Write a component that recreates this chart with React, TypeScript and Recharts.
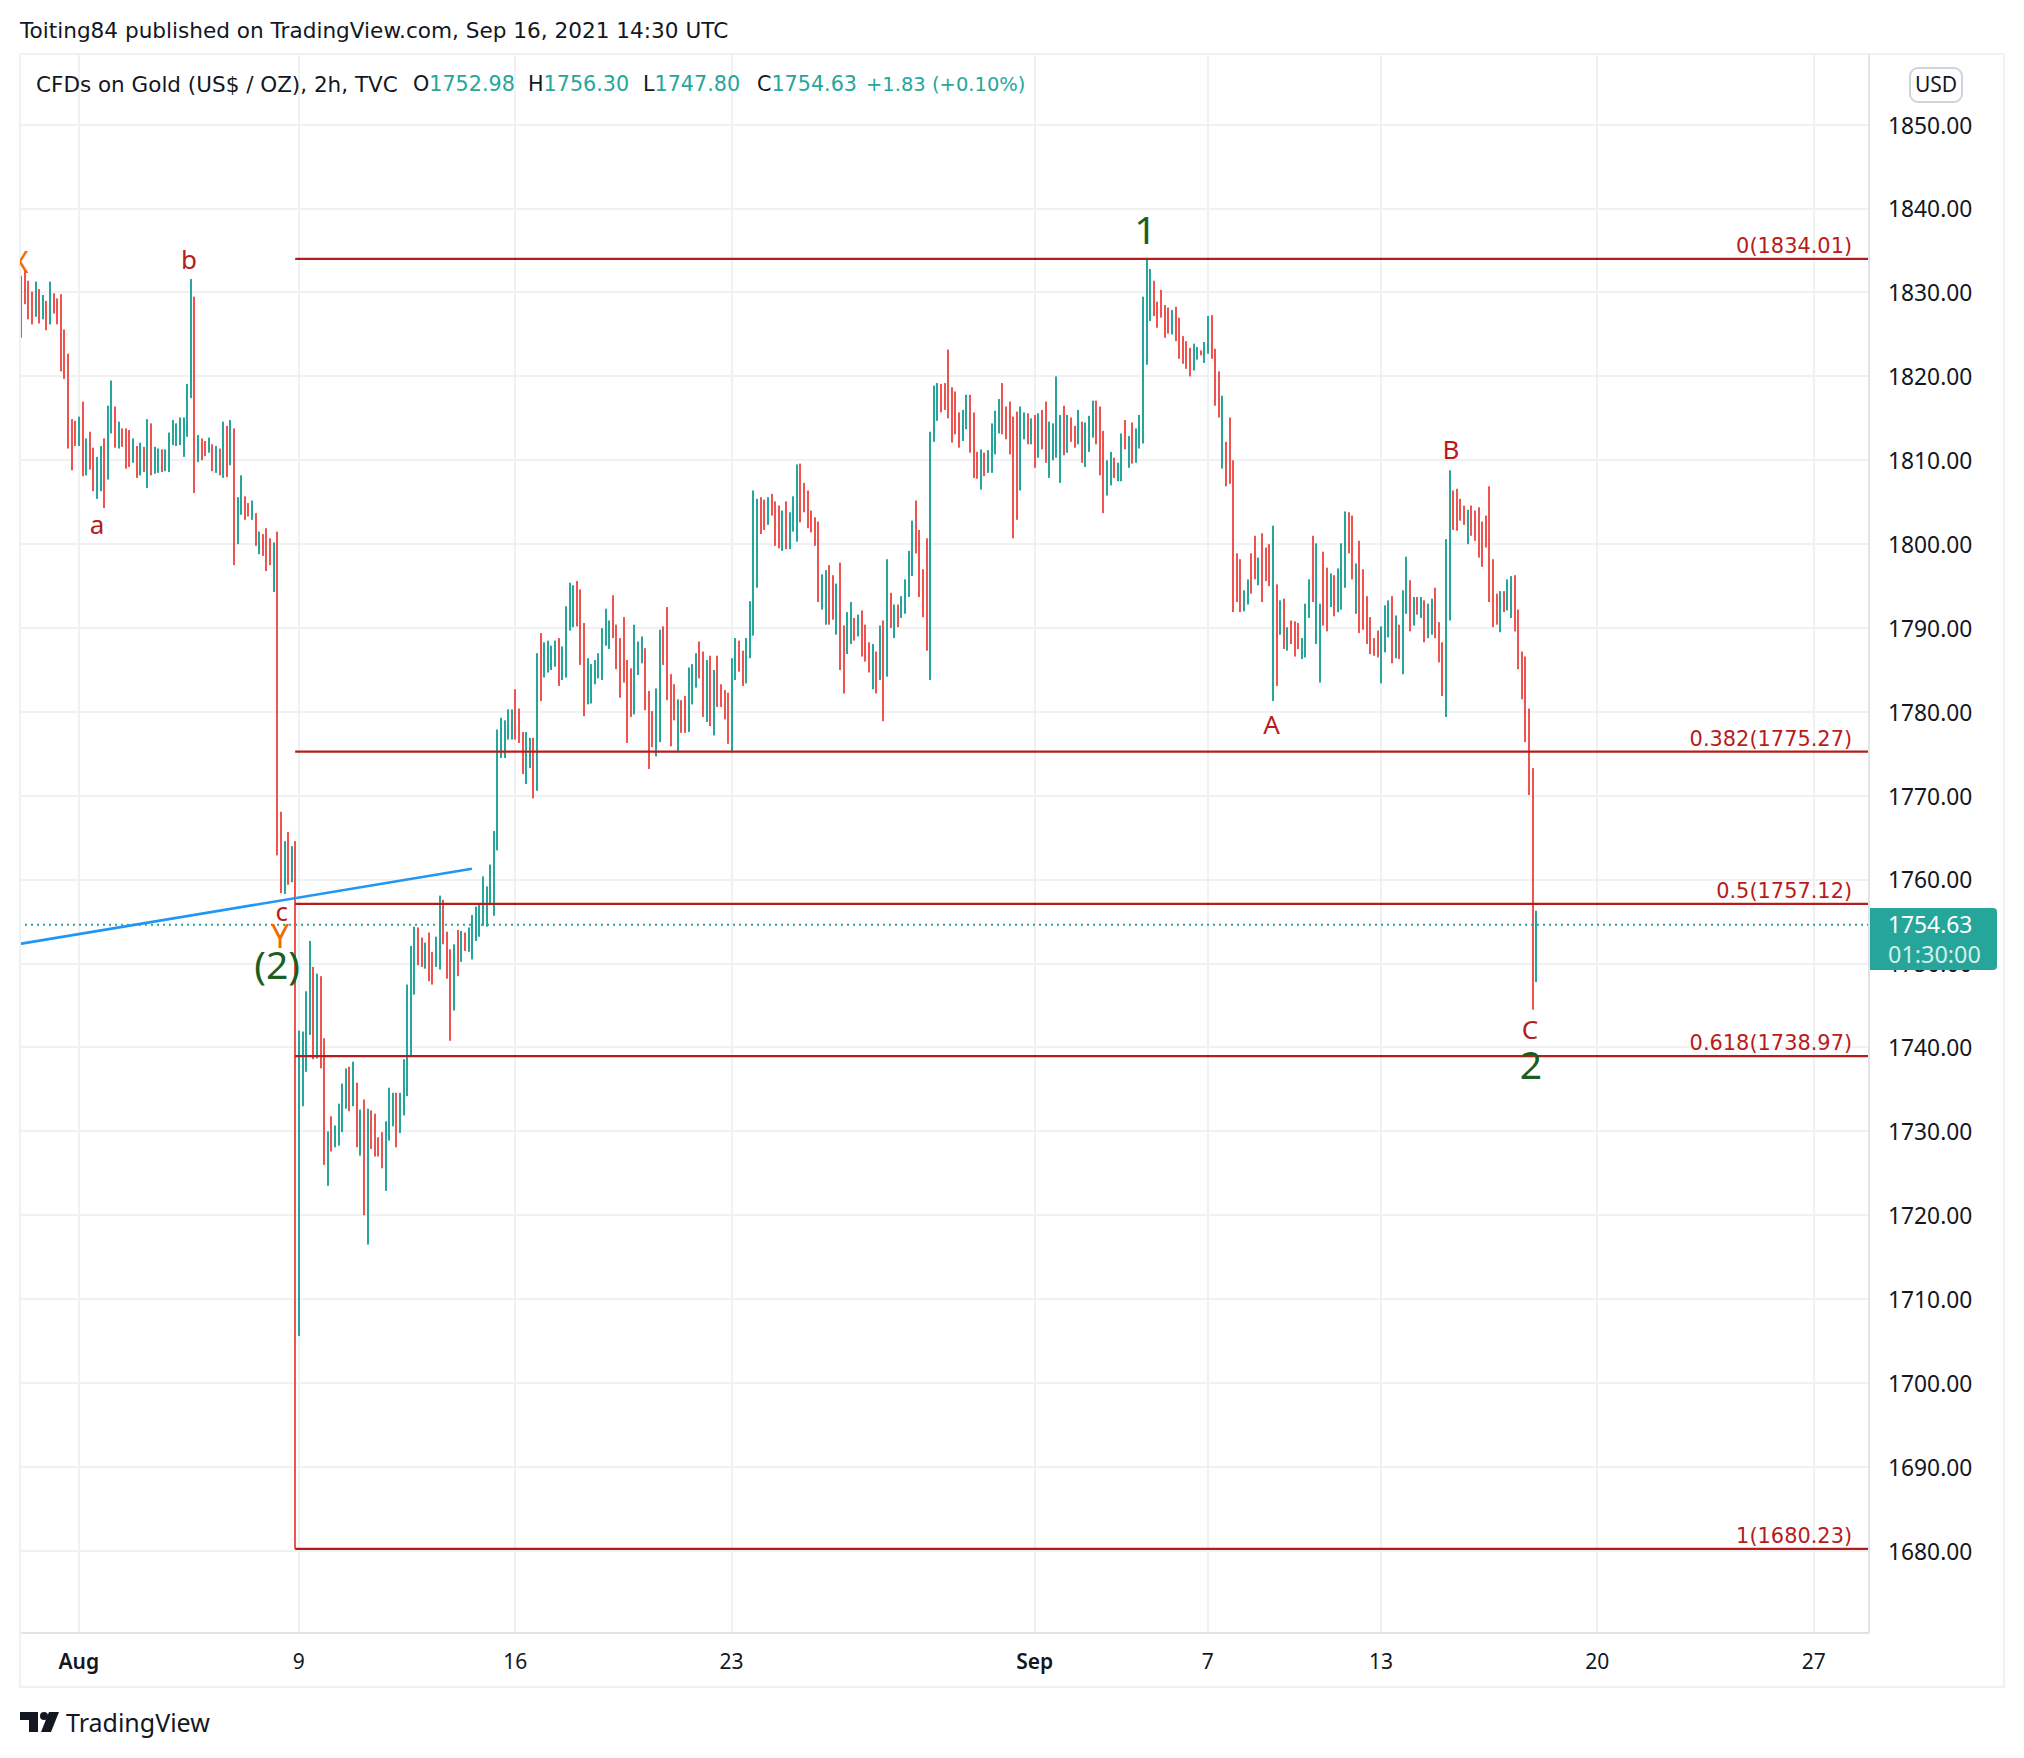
import React from "react";
import { ComposedChart, Bar, XAxis, YAxis, CartesianGrid, ReferenceLine, ReferenceDot } from "recharts";

const highs = [
1832.0,1832.6,1831.4,1830.1,1831.3,1830.4,1829.7,1829.0,1831.3,1829.9,1829.3,1829.8,1825.6,1822.7,1814.9,1814.7,1815.2,1817.0,1812.6,1813.4,
1811.5,1810.4,1811.7,1812.6,1816.5,1819.5,1816.4,1814.6,1813.8,1813.8,1813.6,1812.6,1811.7,1812.1,1811.6,1814.9,1814.4,1811.6,1811.4,1811.3,
1811.3,1813.3,1814.8,1814.4,1815.1,1815.1,1819.1,1831.6,1829.5,1813.0,1812.6,1812.3,1812.7,1811.9,1811.7,1811.4,1814.6,1814.1,1814.8,1813.8,
1805.6,1808.2,1805.7,1804.9,1805.2,1803.7,1801.5,1801.2,1801.9,1800.7,1800.2,1801.5,1768.1,1764.6,1765.7,1764.0,1764.6,1742.0,1741.9,1746.7,
1752.7,1749.6,1748.8,1748.5,1741.1,1730.0,1731.8,1730.7,1733.3,1735.7,1737.5,1737.7,1738.3,1735.8,1732.6,1733.8,1732.7,1732.5,1732.1,1729.3,
1729.9,1731.2,1735.2,1734.6,1734.6,1734.6,1738.6,1747.5,1752.1,1754.4,1754.3,1753.1,1752.5,1753.7,1751.4,1753.2,1758.1,1757.6,1753.8,1751.7,
1752.3,1754.0,1753.9,1753.7,1754.3,1755.8,1756.8,1757.0,1760.4,1759.2,1761.8,1765.8,1777.9,1779.3,1779.0,1780.3,1780.3,1782.7,1780.4,1777.6,
1777.6,1776.9,1776.9,1787.0,1789.4,1788.3,1788.5,1787.9,1788.5,1788.8,1787.8,1792.6,1795.4,1795.1,1795.6,1794.6,1790.6,1786.4,1785.7,1786.2,
1787.0,1790.0,1792.3,1790.9,1793.9,1790.4,1788.8,1791.3,1786.2,1785.2,1790.4,1788.4,1789.0,1787.6,1782.5,1780.1,1782.8,1789.8,1790.2,1792.5,
1784.5,1783.3,1781.5,1781.4,1781.9,1785.3,1785.7,1787.0,1788.4,1787.2,1786.2,1786.7,1785.0,1786.7,1783.3,1782.6,1782.3,1786.4,1788.8,1788.5,
1787.3,1788.8,1793.2,1806.4,1805.4,1805.6,1805.3,1805.6,1806.0,1805.1,1804.6,1804.0,1805.1,1803.8,1805.7,1809.5,1809.6,1807.3,1806.4,1804.0,
1803.2,1802.7,1796.4,1796.9,1797.5,1796.3,1795.3,1797.8,1790.3,1791.9,1793.1,1791.2,1791.6,1792.1,1790.4,1788.3,1788.1,1787.2,1790.3,1790.9,
1798.2,1794.2,1792.8,1792.8,1793.8,1795.8,1799.2,1802.8,1805.2,1801.7,1797.0,1800.7,1813.4,1818.9,1819.2,1819.1,1819.2,1823.2,1818.7,1818.2,
1815.7,1816.0,1817.8,1817.8,1815.7,1811.0,1811.3,1810.9,1811.2,1814.4,1815.9,1817.3,1819.2,1816.4,1817.0,1815.2,1815.8,1816.4,1815.7,1815.6,
1815.0,1815.4,1815.6,1816.0,1817.0,1814.6,1814.4,1820.0,1815.4,1816.5,1815.4,1815.1,1814.1,1816.0,1814.6,1814.5,1815.3,1817.1,1817.1,1816.4,
1813.5,1810.0,1811.0,1810.3,1809.7,1813.2,1814.8,1812.9,1814.5,1813.8,1815.4,1829.5,1834.0,1832.8,1831.4,1828.9,1830.3,1828.5,1828.2,1827.9,
1828.3,1827.0,1824.8,1824.2,1823.4,1823.9,1823.5,1823.1,1824.1,1827.2,1827.3,1823.3,1820.6,1817.7,1812.2,1815.1,1810.0,1798.9,1798.2,1794.5,
1795.8,1798.9,1801.0,1798.4,1801.3,1799.6,1800.0,1802.2,1795.2,1793.3,1793.5,1790.1,1790.9,1790.8,1790.6,1788.8,1792.9,1795.8,1801.0,1800.1,
1792.9,1799.1,1797.2,1796.5,1796.3,1797.1,1800.1,1803.9,1803.8,1803.4,1797.7,1800.4,1797.0,1793.8,1791.3,1788.8,1789.7,1790.2,1792.7,1793.3,
1793.8,1791.5,1790.4,1794.5,1798.5,1795.7,1793.7,1793.7,1793.7,1793.3,1792.9,1793.5,1794.8,1790.7,1788.3,1800.6,1808.8,1806.4,1806.6,1805.4,
1804.6,1804.1,1804.6,1804.0,1804.4,1802.7,1803.4,1806.9,1798.2,1794.1,1794.4,1794.4,1795.8,1796.2,1796.3,1792.2,1787.2,1786.6,1780.4,1773.3,
1756.3];

const lows = [
1824.6,1828.6,1826.8,1826.2,1827.1,1826.3,1826.8,1825.5,1826.2,1827.5,1826.2,1820.6,1819.7,1811.4,1808.8,1811.7,1811.7,1808.1,1808.2,1808.9,
1806.3,1805.4,1806.3,1804.3,1807.7,1813.2,1811.5,1811.4,1811.6,1809.0,1809.2,1809.7,1807.9,1808.2,1808.6,1806.7,1808.2,1808.4,1808.5,1808.6,
1808.7,1808.6,1811.8,1811.7,1811.8,1810.4,1812.8,1817.4,1806.1,1809.8,1810.0,1810.5,1810.9,1808.7,1808.5,1808.2,1807.9,1808.0,1809.4,1797.5,
1800.0,1803.5,1802.9,1803.3,1802.9,1799.8,1798.8,1798.6,1796.8,1797.5,1794.3,1762.9,1758.4,1758.3,1759.4,1759.7,1680.23,1705.6,1733.0,1737.1,
1741.5,1738.6,1738.7,1737.5,1726.0,1723.5,1727.6,1728.1,1728.3,1729.9,1732.7,1732.4,1733.0,1728.1,1727.1,1720.0,1716.5,1727.9,1727.0,1727.0,
1725.6,1722.9,1728.9,1730.6,1728.1,1729.8,1731.9,1734.2,1738.9,1746.3,1749.8,1749.6,1749.4,1747.9,1747.5,1749.6,1749.3,1752.3,1748.2,1740.8,
1744.4,1748.5,1750.2,1751.5,1751.4,1750.5,1752.7,1753.2,1754.5,1754.4,1757.0,1755.7,1763.5,1774.5,1774.5,1776.7,1776.7,1776.7,1776.3,1772.6,
1771.4,1773.3,1769.7,1770.6,1781.3,1784.1,1784.7,1785.0,1785.4,1783.1,1783.8,1784.1,1789.7,1790.1,1790.2,1785.6,1779.5,1780.9,1781.0,1783.3,
1784.0,1783.8,1787.9,1787.5,1788.8,1785.1,1781.7,1783.5,1776.3,1779.4,1779.7,1784.4,1785.8,1780.2,1773.2,1775.8,1774.7,1776.4,1785.6,1781.4,
1775.9,1779.0,1775.2,1777.5,1777.5,1777.6,1780.9,1782.9,1784.0,1779.4,1778.8,1778.3,1777.2,1780.6,1780.6,1779.1,1776.2,1775.2,1783.8,1784.8,
1783.1,1783.4,1786.4,1789.1,1794.8,1801.2,1801.7,1802.3,1803.4,1799.8,1799.5,1799.2,1799.4,1799.4,1801.5,1800.3,1802.6,1803.8,1801.9,1801.4,
1799.8,1793.1,1792.2,1790.4,1790.4,1791.0,1789.2,1785.0,1782.2,1786.9,1788.1,1788.5,1789.0,1786.6,1786.0,1784.7,1782.7,1782.2,1783.8,1778.9,
1784.2,1790.0,1788.8,1790.1,1791.2,1791.7,1793.7,1796.2,1798.9,1793.7,1791.3,1787.3,1783.8,1812.2,1814.7,1815.7,1816.0,1815.0,1812.1,1813.1,
1811.5,1812.3,1813.7,1810.9,1807.9,1807.8,1806.5,1808.1,1808.5,1808.5,1810.7,1813.2,1813.1,1812.5,1810.7,1800.7,1802.9,1806.4,1812.5,1811.9,
1811.9,1809.1,1810.3,1811.3,1809.7,1807.9,1810.0,1810.3,1807.3,1810.6,1810.9,1812.2,1811.5,1811.9,1809.7,1809.2,1811.0,1812.7,1811.9,1808.2,
1803.7,1805.8,1807.0,1807.9,1807.5,1807.5,1811.3,1809.1,1809.6,1809.7,1811.4,1812.0,1821.4,1826.6,1827.2,1825.8,1827.0,1824.6,1825.1,1825.0,
1824.2,1822.1,1821.5,1820.9,1820.0,1820.7,1822.0,1822.5,1821.6,1822.7,1822.1,1816.5,1815.1,1809.0,1806.9,1807.2,1791.9,1793.1,1791.9,1792.0,
1792.8,1794.1,1795.8,1795.1,1793.1,1795.6,1795.0,1781.3,1783.1,1789.2,1787.5,1787.3,1788.1,1786.6,1787.5,1786.3,1786.5,1791.2,1793.1,1788.1,
1783.5,1790.3,1789.6,1792.5,1791.4,1791.9,1792.2,1794.8,1798.9,1795.8,1791.7,1789.4,1789.8,1788.1,1786.9,1786.7,1786.5,1783.4,1787.1,1788.9,
1785.8,1786.4,1786.3,1784.5,1791.7,1789.6,1790.3,1791.6,1791.2,1788.3,1788.8,1789.2,1788.8,1785.9,1781.9,1779.4,1790.9,1801.7,1801.6,1802.8,
1802.3,1800.0,1801.0,1800.4,1798.4,1797.3,1799.6,1793.1,1790.1,1790.4,1789.5,1791.9,1792.1,1791.2,1789.6,1785.1,1781.5,1776.4,1770.1,1744.5,
1747.8];

const rising = [
1,0,0,0,1,0,1,0,1,0,0,0,0,0,0,0,1,0,1,0,
0,1,1,0,1,1,0,1,0,0,0,1,0,1,0,1,0,1,1,0,
1,1,1,1,1,1,1,1,0,1,0,0,1,0,1,0,1,0,1,0,
1,1,0,0,1,0,1,0,0,0,1,0,0,1,0,1,0,1,1,1,
1,0,1,0,0,1,0,1,1,1,1,0,1,0,1,0,1,0,0,0,
0,1,1,1,0,1,1,1,1,1,0,0,1,0,0,1,1,0,0,0,
1,0,1,0,1,1,1,1,1,1,1,1,1,1,1,1,1,0,0,0,
1,1,0,1,0,1,1,1,1,0,1,1,1,1,0,0,0,1,1,1,
1,1,1,1,0,0,0,0,0,0,1,1,1,0,0,0,1,1,0,0,
0,0,1,0,0,1,1,1,0,0,1,0,1,0,0,0,0,1,1,0,
0,1,1,1,1,0,0,1,0,0,0,1,0,1,1,1,0,0,0,0,
0,0,1,1,0,0,1,0,0,1,1,0,1,0,0,0,1,0,1,0,
1,0,1,0,1,1,1,1,0,0,0,0,1,1,1,0,0,0,0,0,
0,1,1,0,0,0,1,0,1,1,1,1,0,0,0,0,0,1,1,0,
1,0,1,0,0,1,1,1,1,0,1,0,0,1,0,1,1,1,0,0,
0,1,1,0,1,1,0,1,0,1,1,1,1,1,0,0,0,0,0,1,
0,0,0,0,0,1,1,0,1,1,0,0,0,1,0,0,0,0,0,1,
1,0,0,1,0,0,0,1,0,1,0,1,0,0,0,1,1,1,0,1,
1,0,0,1,0,1,1,1,0,0,1,0,0,0,0,0,0,1,1,1,
0,1,0,1,1,0,1,0,1,0,1,1,0,0,0,1,1,0,0,0,
0,1,0,0,0,0,0,0,0,0,1,0,1,1,0,0,0,0,0,0,
1];

const priceTicks = [1680,1690,1700,1710,1720,1730,1740,1750,1760,1770,1780,1790,1800,1810,1820,1830,1840,1850];
const timeTickSlots = [16,77,137,197,281,329,377,437,497];
const timeTickNames = ["Aug","9","16","23","Sep","7","13","20","27"];
const fibRatios = ["0","0.382","0.5","0.618","1"];
const fibPrices = [1834.01,1775.27,1757.12,1738.97,1680.23];

const table = highs.map((h, i) => ({ slot: i, range: [lows[i], h], rising: rising[i] === 1 }));

const UP = "#26a69a";
const DOWN = "#ef5350";
const FIB = "#b71c1c";
const INK = "#131722";
const GREEN = "#1b5e20";
const ORANGE = "#ef6c00";
const WAVE = "#b71c1c";
const GRID = "#f0f1f3";
const AXIS = "#e2e3e6";
const UI = "DejaVu Sans";
const NUM = "Noto Sans";

const XMIN = -0.28;
const XMAX = 512.3;

const TimeTick = (props: any) => {
  const idx = timeTickSlots.indexOf(props.payload.value);
  const name = timeTickNames[idx];
  const bold = name === "Aug" || name === "Sep";
  return (
    <text x={props.x} y={1669} textAnchor="middle" fontFamily={NUM} fontSize={21} fontWeight={bold ? 600 : 400} fill={INK}>
      {name}
    </text>
  );
};

const PriceTick = (props: any) => (
  <text x={1888} y={props.y + 8.8} textAnchor="start" fontFamily={NUM} fontSize={22.8} fill={INK}>
    {props.payload.value.toFixed(2)}
  </text>
);

const PriceBar = (props: any) => (
  <rect
    x={Math.round(props.x)}
    y={props.y}
    width={2}
    height={props.height}
    fill={props.payload.rising ? UP : DOWN}
  />
);

const put = (left: number, top: number, extra: any = {}) => ({
  position: "absolute", left, top, whiteSpace: "pre", lineHeight: 1, ...extra,
});

const wave = (text: string, slot: number, price: number, color: string, size: number) => (
  <ReferenceDot
    key={text + slot}
    x={slot}
    y={price}
    r={0}
    fill="none"
    stroke="none"
    ifOverflow="visible"
    label={{ value: text, position: "center", fill: color, fontSize: size, fontFamily: NUM }}
  />
);

export default function App() {
  return (
    <div style={{ position: "absolute", left: 0, top: 0, width: 2024, height: 1758, background: "#fff", overflow: "hidden" }}>
      <div style={put(20, 20, { fontFamily: UI, fontSize: 21.6, color: INK })}>Toiting84 published on TradingView.com, Sep 16, 2021 14:30 UTC</div>

      <ComposedChart
        width={2024}
        height={1758}
        data={table}
        margin={{ left: 20, top: 54, right: 20, bottom: 71 }}
        style={{ position: "absolute", left: 0, top: 0 }}
      >
        <CartesianGrid stroke={GRID} strokeWidth={2} shapeRendering="crispEdges" />
        <XAxis
          dataKey="slot"
          type="number"
          domain={[XMIN, XMAX]}
          ticks={timeTickSlots}
          interval={0}
          height={54}
          tickLine={false}
          axisLine={{ stroke: AXIS, strokeWidth: 2 }}
          tick={<TimeTick />}
        />
        <YAxis
          orientation="right"
          type="number"
          domain={[1670.2, 1858.43]}
          ticks={priceTicks}
          interval={0}
          width={135}
          tickLine={false}
          axisLine={{ stroke: AXIS, strokeWidth: 2 }}
          tick={<PriceTick />}
        />
        <Bar dataKey="range" barSize={2} isAnimationActive={false} shape={<PriceBar />} />
        <ReferenceLine y={1754.63} stroke={UP} strokeWidth={2.2} strokeDasharray="2 4" />
        <ReferenceLine
          ifOverflow="visible"
          segment={[{ x: XMIN, y: 1752.35 }, { x: 125, y: 1761.3 }]}
          stroke="#2196f3"
          strokeWidth={2.6}
        />
        {fibPrices.map((p) => (
          <ReferenceLine
            key={p}
            ifOverflow="visible"
            segment={[{ x: 76, y: p }, { x: XMAX, y: p }]}
            stroke={FIB}
            strokeWidth={2.4}
          />
        ))}
        {fibPrices.map((p, i) => (
          <ReferenceDot
            key={"f" + p}
            x={509}
            y={p + 1.6}
            r={0}
            fill="none"
            stroke="none"
            ifOverflow="visible"
            label={{ value: `${fibRatios[i]}(${p.toFixed(2)})`, position: "left", fill: FIB, fontSize: 20.9, fontFamily: UI }}
          />
        ))}
        {wave("a", 21.1, 1802.3, WAVE, 26)}
        {wave("b", 46.6, 1833.9, WAVE, 26)}
        {wave("Y", 71.8, 1753.2, ORANGE, 32)}
        {wave("c", 72.3, 1756.2, WAVE, 26)}
        {wave("(2)", 71, 1749.8, GREEN, 39)}
        {wave("1", 311.7, 1837.4, GREEN, 39)}
        {wave("A", 346.7, 1778.5, WAVE, 26)}
        {wave("B", 396.4, 1811.2, WAVE, 26)}
        {wave("C", 418.3, 1742.1, WAVE, 26)}
        {wave("2", 418.6, 1737.9, GREEN, 39)}
      </ComposedChart>

      <div style={{ position: "absolute", left: 19, top: 53, width: 1982, height: 1631, border: `2px solid ${GRID}`, boxSizing: "content-box", pointerEvents: "none" }} />

      <div style={{ position: "absolute", left: 20, top: 246, width: 12, height: 32, overflow: "hidden", color: ORANGE, fontFamily: NUM, fontSize: 30, lineHeight: "32px" }}>
        <span style={{ position: "absolute", left: -9 }}>X</span>
      </div>

      <div style={put(36, 74, { fontFamily: UI, fontSize: 21.5, color: INK })}>CFDs on Gold (US$ / OZ), 2h, TVC</div>
      <div style={put(413, 74, { fontFamily: UI, fontSize: 20.7, color: INK })}>O<span style={{ color: UP }}>1752.98</span></div>
      <div style={put(528, 74, { fontFamily: UI, fontSize: 20.7, color: INK })}>H<span style={{ color: UP }}>1756.30</span></div>
      <div style={put(643, 74, { fontFamily: UI, fontSize: 20.7, color: INK })}>L<span style={{ color: UP }}>1747.80</span></div>
      <div style={put(757, 74, { fontFamily: UI, fontSize: 20.7, color: INK })}>C<span style={{ color: UP }}>1754.63</span></div>
      <div style={put(866, 75, { fontFamily: UI, fontSize: 19.5, color: UP })}>+1.83 (+0.10%)</div>

      <div style={{ position: "absolute", left: 1909, top: 67, width: 54, height: 36, boxSizing: "border-box", border: "2px solid #d1d4dc", borderRadius: 9, background: "#fff", color: INK, fontFamily: NUM, fontSize: 21, lineHeight: "30px", textAlign: "center" }}>USD</div>

      <div style={{ position: "absolute", left: 1870, top: 908, width: 127, height: 62, background: UP, borderRadius: "0 4px 4px 0" }} />
      <div style={put(1888, 914, { fontFamily: NUM, fontSize: 22.8, color: "#fff" })}>1754.63</div>
      <div style={put(1888, 943, { fontFamily: NUM, fontSize: 23.4, color: "#d4eeeb" })}>01:30:00</div>

      <svg style={{ position: "absolute", left: 20, top: 1712 }} width={40} height={20} viewBox="0 0 40 20">
        <polygon points="0,0 18,0 18,20 9,20 9,8 0,8" fill={INK} />
        <circle cx={24} cy={4} r={4} fill={INK} />
        <polygon points="29,0 39,0 31,20 21,20" fill={INK} />
      </svg>
      <div style={put(66, 1710, { fontFamily: NUM, fontSize: 25, color: INK })}>TradingView</div>
    </div>
  );
}
